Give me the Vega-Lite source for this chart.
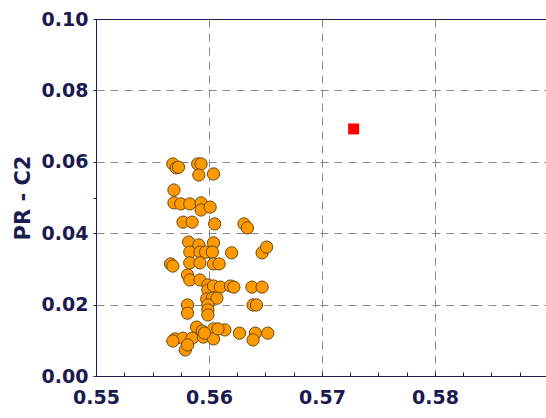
{
  "$schema": "https://vega.github.io/schema/vega-lite/v6.json",
  "autosize": "none",
  "width": 452,
  "height": 357,
  "padding": {"left": 96, "top": 19, "right": 0, "bottom": 42},
  "background": "white",
  "config": {
    "view": {"stroke": "#1a1a55", "strokeWidth": 1},
    "axis": {
      "labelFont": "DejaVu Sans",
      "labelFontWeight": "bold",
      "labelFontSize": 19,
      "labelColor": "#1a1a50",
      "titleFont": "DejaVu Sans",
      "titleFontWeight": "bold",
      "titleFontSize": 21,
      "titleColor": "#1a1a50",
      "domainColor": "#1a1a55",
      "tickColor": "#1a1a55",
      "gridColor": "#888888",
      "gridDash": [8, 6],
      "gridWidth": 1
    }
  },
  "datasets": {
    "pts": [
      {"x": 0.5568, "y": 0.0594, "g": "a"}, {"x": 0.5571, "y": 0.0583, "g": "a"}, {"x": 0.5573, "y": 0.0585, "g": "a"},
      {"x": 0.5590, "y": 0.0594, "g": "a"}, {"x": 0.5593, "y": 0.0594, "g": "a"}, {"x": 0.5591, "y": 0.0563, "g": "a"},
      {"x": 0.5604, "y": 0.0566, "g": "a"}, {"x": 0.5569, "y": 0.0521, "g": "a"}, {"x": 0.5569, "y": 0.0485, "g": "a"},
      {"x": 0.5575, "y": 0.0482, "g": "a"}, {"x": 0.5583, "y": 0.0482, "g": "a"}, {"x": 0.5593, "y": 0.0485, "g": "a"},
      {"x": 0.5593, "y": 0.0465, "g": "a"}, {"x": 0.5601, "y": 0.0473, "g": "a"}, {"x": 0.5577, "y": 0.0431, "g": "a"},
      {"x": 0.5585, "y": 0.0431, "g": "a"}, {"x": 0.5605, "y": 0.0426, "g": "a"}, {"x": 0.5631, "y": 0.0426, "g": "a"},
      {"x": 0.5634, "y": 0.0415, "g": "a"}, {"x": 0.5582, "y": 0.0375, "g": "a"}, {"x": 0.5591, "y": 0.0367, "g": "a"},
      {"x": 0.5604, "y": 0.0373, "g": "a"}, {"x": 0.5583, "y": 0.0347, "g": "a"}, {"x": 0.5592, "y": 0.0347, "g": "a"},
      {"x": 0.5597, "y": 0.0347, "g": "a"}, {"x": 0.5603, "y": 0.0347, "g": "a"}, {"x": 0.5620, "y": 0.0345, "g": "a"},
      {"x": 0.5647, "y": 0.0345, "g": "a"}, {"x": 0.5651, "y": 0.0361, "g": "a"}, {"x": 0.5566, "y": 0.0314, "g": "a"},
      {"x": 0.5568, "y": 0.0308, "g": "a"}, {"x": 0.5583, "y": 0.0317, "g": "a"}, {"x": 0.5592, "y": 0.0317, "g": "a"},
      {"x": 0.5604, "y": 0.0314, "g": "a"}, {"x": 0.5609, "y": 0.0314, "g": "a"}, {"x": 0.5581, "y": 0.0283, "g": "a"},
      {"x": 0.5583, "y": 0.0269, "g": "a"}, {"x": 0.5592, "y": 0.0269, "g": "a"}, {"x": 0.5599, "y": 0.0255, "g": "a"},
      {"x": 0.5599, "y": 0.0241, "g": "a"}, {"x": 0.5604, "y": 0.0252, "g": "a"}, {"x": 0.5610, "y": 0.0249, "g": "a"},
      {"x": 0.5619, "y": 0.0252, "g": "a"}, {"x": 0.5622, "y": 0.0249, "g": "a"}, {"x": 0.5638, "y": 0.0249, "g": "a"},
      {"x": 0.5647, "y": 0.0249, "g": "a"}, {"x": 0.5598, "y": 0.0216, "g": "a"}, {"x": 0.5603, "y": 0.0218, "g": "a"},
      {"x": 0.5607, "y": 0.0218, "g": "a"}, {"x": 0.5581, "y": 0.0199, "g": "a"}, {"x": 0.5581, "y": 0.0176, "g": "a"},
      {"x": 0.5599, "y": 0.0199, "g": "a"}, {"x": 0.5599, "y": 0.0185, "g": "a"}, {"x": 0.5599, "y": 0.0171, "g": "a"},
      {"x": 0.5639, "y": 0.0199, "g": "a"}, {"x": 0.5642, "y": 0.0199, "g": "a"}, {"x": 0.5589, "y": 0.0137, "g": "a"},
      {"x": 0.5594, "y": 0.0126, "g": "a"}, {"x": 0.5604, "y": 0.0132, "g": "a"}, {"x": 0.5614, "y": 0.0129, "g": "a"},
      {"x": 0.5627, "y": 0.0120, "g": "a"}, {"x": 0.5641, "y": 0.0120, "g": "a"}, {"x": 0.5652, "y": 0.0120, "g": "a"},
      {"x": 0.5639, "y": 0.0101, "g": "a"}, {"x": 0.5570, "y": 0.0104, "g": "a"}, {"x": 0.5577, "y": 0.0106, "g": "a"},
      {"x": 0.5585, "y": 0.0106, "g": "a"}, {"x": 0.5595, "y": 0.0109, "g": "a"}, {"x": 0.5604, "y": 0.0104, "g": "a"},
      {"x": 0.5579, "y": 0.0073, "g": "a"}, {"x": 0.5581, "y": 0.0087, "g": "a"}, {"x": 0.5568, "y": 0.0098, "g": "a"},
      {"x": 0.5596, "y": 0.0120, "g": "a"}, {"x": 0.5608, "y": 0.0132, "g": "a"},
      {"x": 0.5728, "y": 0.0692, "g": "b"}
    ]
  },
  "data": {"name": "pts"},
  "encoding": {
    "x": {
      "field": "x", "type": "quantitative",
      "scale": {"domain": [0.55, 0.59], "nice": false, "zero": false},
      "axis": {
        "title": null,
        "values": [0.55, 0.5525, 0.555, 0.5575, 0.56, 0.5625, 0.565, 0.5675, 0.57, 0.5725, 0.575, 0.5775, 0.58, 0.5825, 0.585, 0.5875, 0.59],
        "labelExpr": "abs(datum.value*100 - round(datum.value*100)) < 0.001 && datum.value < 0.585 ? format(datum.value, '.2f') : ''",
        "gridOpacity": {"condition": {"test": "abs(datum.value*100 - round(datum.value*100)) < 0.001 && datum.value > 0.555", "value": 1}, "value": 0},
        "tickSize": -4,
        "labelPadding": 16,
        "labelFlush": false,
        "labelOverlap": false
      }
    },
    "y": {
      "field": "y", "type": "quantitative",
      "scale": {"domain": [0, 0.1], "nice": false},
      "axis": {
        "title": "PR - C2",
        "values": [0, 0.02, 0.04, 0.05, 0.06, 0.08, 0.1],
        "labelExpr": "datum.value == 0.05 ? '' : format(datum.value, '.2f')",
        "gridOpacity": {"condition": {"test": "datum.value > 0.001 && datum.value < 0.09 && datum.value != 0.05", "value": 1}, "value": 0},
        "tickSize": 3,
        "labelPadding": 5,
        "titlePadding": 8,
        "labelFlush": false,
        "labelOverlap": false
      }
    }
  },
  "layer": [
    {
      "transform": [{"filter": "datum.g == 'a'"}],
      "mark": {"type": "point", "shape": "circle", "filled": true, "size": 150, "fill": "#ff9900", "stroke": "#6b4a10", "strokeWidth": 1, "opacity": 1}
    },
    {
      "transform": [{"filter": "datum.g == 'b'"}],
      "mark": {"type": "square", "size": 121, "color": "#ff0000", "opacity": 1}
    }
  ]
}
